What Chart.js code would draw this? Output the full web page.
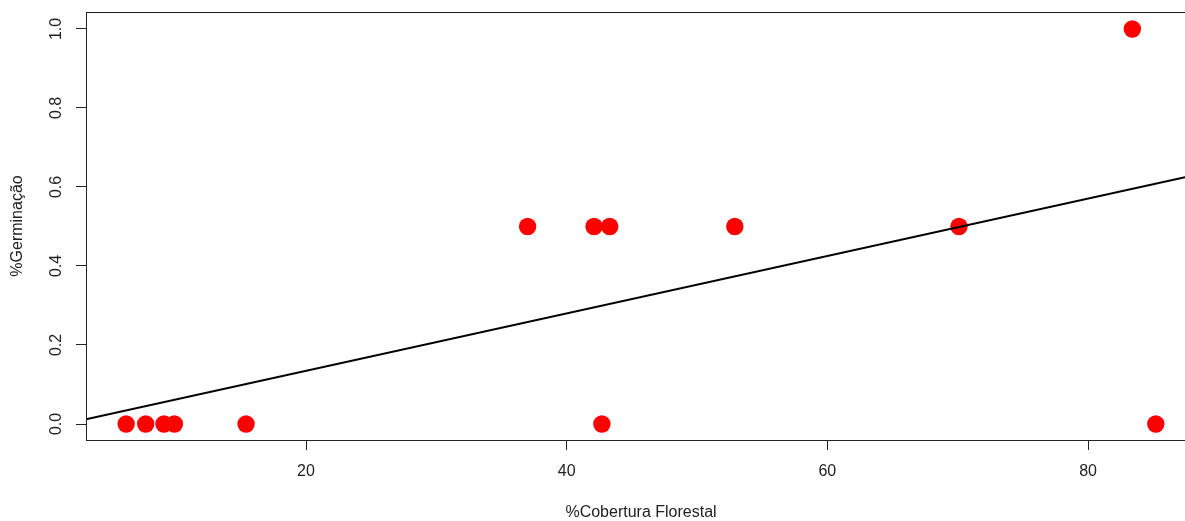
<!DOCTYPE html>
<html>
<head>
<meta charset="utf-8">
<script src="https://cdn.jsdelivr.net/npm/chart.js@4/dist/chart.umd.min.js"></script>
<style>
  body { margin: 0; background: #fff; }
  canvas { display: block; }
</style>
</head>
<body>
<canvas id="myChart" width="1185" height="521"></canvas>
<script>
// data
var cobertura = [6.2, 7.7, 9.1, 9.9, 15.4, 37.0, 42.1, 42.7, 43.3, 52.9, 70.1, 83.4, 85.2];
var germinacao = [0, 0, 0, 0, 0, 0.5, 0.5, 0, 0.5, 0.5, 0.5, 1.0, 0];

// fitted line, end points as they meet the plot edges
var fitX = [3.12, 87.44];
var fitY = [0.012, 0.625];

var xTicks = [20, 40, 60, 80];
var yTicks = [0, 0.2, 0.4, 0.6, 0.8, 1.0];

var xLabel = "%Cobertura Florestal";
var yLabel = "%Germinação";

var fontFamily = "'Liberation Sans', Arial, sans-serif";

// box round the plot + tick labels placed R style (y ones rotated)
var rPlotStyle = {
  id: 'rPlotStyle',
  afterDraw: function(chart) {
    var ctx = chart.ctx;
    var a = chart.chartArea;
    ctx.save();
    ctx.strokeStyle = '#222';
    ctx.lineWidth = 1;
    ctx.strokeRect(a.left + 0.5, a.top + 0.5, a.right - a.left + 20, a.bottom - a.top);

    ctx.fillStyle = '#222';
    ctx.font = '16px ' + fontFamily;
    ctx.textAlign = 'center';
    ctx.textBaseline = 'middle';

    var xScale = chart.scales.x;
    xTicks.forEach(function(v) {
      ctx.fillText(String(v), xScale.getPixelForValue(v), 472);
    });
    // R centres the title on the full plot region, which runs past the right edge
    ctx.fillText(xLabel, 641, 513);

    var yScale = chart.scales.y;
    yTicks.forEach(function(v) {
      var py = yScale.getPixelForValue(v);
      ctx.save();
      ctx.translate(57, py);
      ctx.rotate(-Math.PI / 2);
      ctx.fillText(v.toFixed(1), 0, 0);
      ctx.restore();
    });
    ctx.restore();
  }
};

var ctx = document.getElementById("myChart");
var myChart = new Chart(ctx, {
  type: 'scatter',
  data: {
    datasets: [
      {
        data: fitX.map(function(x, i) { return { x: x, y: fitY[i] }; }),
        showLine: true,
        borderColor: '#000',
        borderWidth: 2,
        pointRadius: 0,
        fill: false
      },
      {
        data: cobertura.map(function(x, i) { return { x: x, y: germinacao[i] }; }),
        backgroundColor: '#ff0000',
        borderWidth: 0,
        pointRadius: 8.7
      }
    ]
  },
  options: {
    responsive: false,
    animation: false,
    devicePixelRatio: 1,
    layout: { autoPadding: false, padding: { top: 12, right: 0, bottom: 0, left: 0 } },
    plugins: {
      legend: { display: false },
      tooltip: { enabled: false }
    },
    scales: {
      x: {
        type: 'linear',
        min: 3.12,
        max: 87.44,
        afterBuildTicks: function(scale) {
          scale.ticks = xTicks.map(function(v) { return { value: v }; });
        },
        afterFit: function(scale) { scale.height = 81; },
        grid: { drawOnChartArea: false, drawTicks: true, tickLength: 10, tickColor: '#222' },
        border: { display: false },
        ticks: { display: false },
        title: { display: false }
      },
      y: {
        type: 'linear',
        min: -0.0405,
        max: 1.043,
        afterBuildTicks: function(scale) {
          scale.ticks = yTicks.map(function(v) { return { value: v }; });
        },
        afterFit: function(scale) { scale.width = 86; },
        grid: { drawOnChartArea: false, drawTicks: true, tickLength: 10, tickColor: '#222' },
        border: { display: false },
        ticks: { display: false },
        title: {
          display: true,
          text: yLabel,
          color: '#222',
          padding: { top: 10, bottom: 0 },
          font: { family: fontFamily, size: 16, lineHeight: 1 }
        }
      }
    }
  },
  plugins: [rPlotStyle]
});
</script>
</body>
</html>
